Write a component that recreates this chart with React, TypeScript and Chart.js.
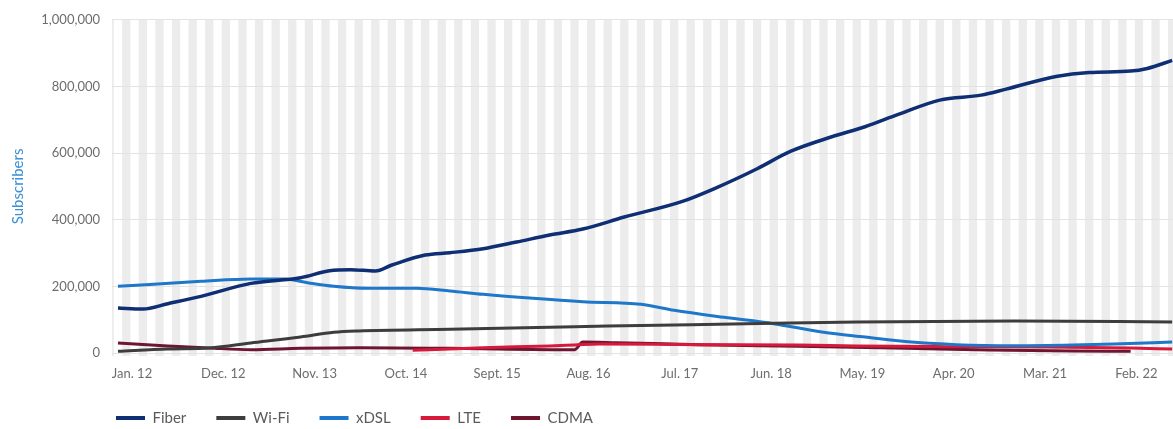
import React, { useEffect, useRef } from "react";
import { Chart, registerables } from "chart.js";

Chart.register(...registerables);

// Month index: 0 = Jan. 2012
const tickMonths = [0, 11, 22, 33, 44, 55, 66, 77, 88, 99, 110, 121];
const tickLabels = ["Jan. 12", "Dec. 12", "Nov. 13", "Oct. 14", "Sept. 15", "Aug. 16", "Jul. 17", "Jun. 18", "May. 19", "Apr. 20", "Mar. 21", "Feb. 22"];

const seriesNames = ["Fiber", "Wi-Fi", "xDSL", "LTE", "CDMA"];
const seriesColors = ["#0f2f74", "#3d3d3d", "#1f77c9", "#d7193c", "#6e1530"];

const fiberMonths = [0, 3, 6, 10, 16, 22, 25.5, 28, 31, 33, 37, 40, 44, 48, 52, 56, 61, 68, 72, 77, 81, 86, 90, 94, 99, 104, 107, 113, 117, 122, 124, 127];
const fiberValues = [135000, 132000, 148000, 170000, 209000, 226000, 247000, 250000, 246000, 264000, 294000, 301000, 313000, 333000, 354000, 372000, 408000, 455000, 495000, 553000, 605000, 649000, 679000, 716000, 759000, 774000, 792000, 830000, 842000, 846000, 854000, 878000];

const wifiMonths = [0, 6, 11, 16, 22, 26, 29, 40, 52, 59, 74, 89, 108, 127];
const wifiValues = [5000, 12000, 15000, 30000, 48000, 62000, 66000, 71000, 77000, 81000, 87000, 93000, 96000, 93000];

const xdslMonths = [0, 10, 16, 20, 23, 26, 30, 36, 40, 44, 50, 56, 63, 67, 73, 79, 85, 90, 96, 101, 108, 115, 120, 127];
const xdslValues = [200000, 215000, 222000, 222000, 210000, 200000, 194000, 194000, 186000, 176000, 164000, 154000, 146000, 128000, 107000, 88000, 62000, 48000, 32000, 25000, 22000, 24000, 27000, 33000];

const lteMonths = [35.5, 44, 52, 55, 58, 70, 82, 89, 100, 112, 122, 127];
const lteValues = [8000, 16000, 21000, 24000, 27000, 25000, 24000, 21000, 19000, 18000, 15000, 12000];

const cdmaMonths = [0, 6, 11, 16, 22, 29, 40, 55, 56, 60, 70, 82, 95, 105, 115, 122];
const cdmaValues = [30000, 21000, 15000, 10000, 14000, 16000, 14000, 10000, 33000, 31000, 25000, 20000, 14000, 9000, 6000, 5000];

const yMin = 0;
const yMax = 1000000;
const yStep = 200000;
const xMin = -0.72;
const xMax = 127.1;

const toPoints = (ms: number[], vs: number[]) => ms.map((m, i) => ({ x: m, y: vs[i] }));

const stripePlugin = {
  id: "stripes",
  afterLayout(chart: any) {
    if (chart.legend) chart.legend.left = 86;
  },
  beforeDraw(chart: any) {
    const { ctx, chartArea, scales } = chart;
    const x = scales.x;
    ctx.save();
    ctx.beginPath();
    ctx.rect(chartArea.left, chartArea.top, chartArea.right - chartArea.left, chartArea.bottom - chartArea.top + 3);
    ctx.clip();
    ctx.fillStyle = "#ececec";
    for (let m = Math.floor(x.min) - 1; m <= Math.ceil(x.max) + 1; m++) {
      if (Math.abs(m % 2) !== 1) continue;
      const a = x.getPixelForValue(m - 0.5);
      const b = x.getPixelForValue(m + 0.5);
      ctx.fillRect(a, chartArea.top, b - a, chartArea.bottom - chartArea.top + 3);
    }
    ctx.restore();
  },
};

export default function App() {
  const ref = useRef<HTMLCanvasElement | null>(null);
  useEffect(() => {
    document.body.style.margin = "0";
    if (!ref.current) return;
    Chart.defaults.font.family = "Lato, 'Open Sans', sans-serif";
    const all = [
      toPoints(fiberMonths, fiberValues),
      toPoints(wifiMonths, wifiValues),
      toPoints(xdslMonths, xdslValues),
      toPoints(lteMonths, lteValues),
      toPoints(cdmaMonths, cdmaValues),
    ];
    const chart = new Chart(ref.current, {
      type: "line",
      data: {
        datasets: all.map((pts, i) => ({
          label: seriesNames[i],
          data: pts,
          borderColor: seriesColors[i],
          backgroundColor: seriesColors[i],
          borderWidth: i === 0 ? 3.5 : 3,
          pointRadius: 0,
          pointHoverRadius: 0,
          cubicInterpolationMode: "monotone" as const,
          fill: false,
        })),
      },
      options: {
        responsive: false,
        animation: false,
        layout: { padding: { left: 0, top: 15, right: 0, bottom: -6.5 } },
        plugins: {
          tooltip: { enabled: false },
          legend: {
            position: "bottom",
            align: "start",
            labels: {
              usePointStyle: true,
              pointStyle: "line",
              pointStyleWidth: 29,
              padding: 30,
              color: "#5a5a5a",
              font: { size: 15 },
              generateLabels: (c: any) =>
                Chart.defaults.plugins.legend.labels.generateLabels(c).map((l: any) => ({ ...l, lineWidth: 4 })),
            },
          },
        },
        scales: {
          x: {
            type: "linear",
            min: xMin,
            max: xMax,
            grid: { display: false, drawTicks: false },
            border: { display: false },
            afterBuildTicks: (scale: any) => {
              scale.ticks = tickMonths.map((v) => ({ value: v }));
            },
            afterFit: (scale: any) => {
              scale.height = 27.5;
            },
            ticks: {
              autoSkip: false,
              maxRotation: 0,
              padding: 13,
              labelOffset: 14,
              color: "#6d6d6d",
              font: { size: 13 },
              callback: (_v: any, i: number) => tickLabels[i],
            },
          },
          y: {
            min: yMin,
            max: yMax,
            grid: { color: "#e3e3e3", drawTicks: false, lineWidth: 1 },
            border: { display: false },
            afterFit: (scale: any) => {
              scale.width = 112;
            },
            ticks: {
              stepSize: yStep,
              padding: 12,
              color: "#6d6d6d",
              font: { size: 13 },
              callback: (v: any) => Number(v).toLocaleString("en-US"),
            },
            title: {
              display: true,
              text: "Subscribers",
              color: "#3b8fd6",
              font: { size: 15 },
              padding: { top: 9, bottom: 0 },
            },
          },
        },
      },
      plugins: [stripePlugin],
    });
    return () => chart.destroy();
  }, []);
  return (
    <div style={{ width: 1173, height: 429 }}>
      <canvas ref={ref} width={1173} height={429} />
    </div>
  );
}
